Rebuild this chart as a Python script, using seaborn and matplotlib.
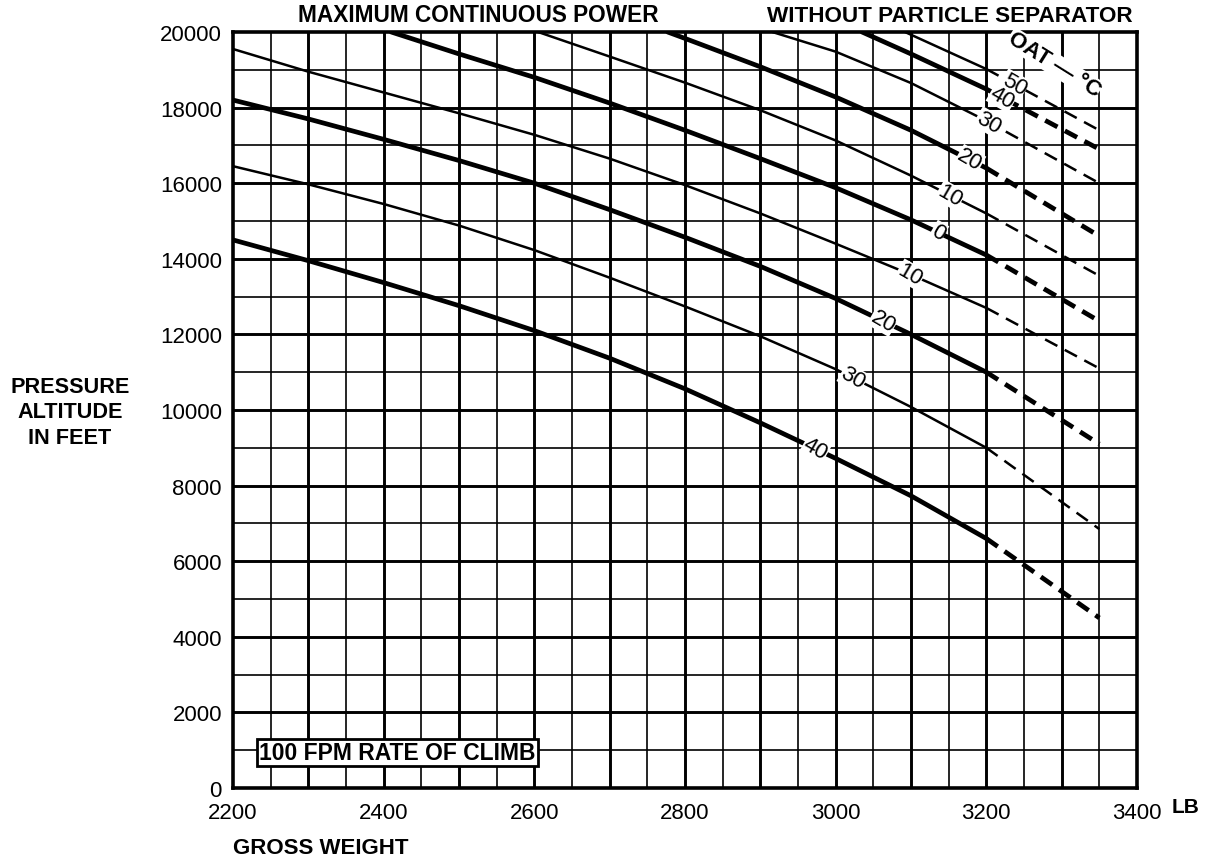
import numpy as np
import pandas as pd
import matplotlib
matplotlib.use("Agg")
import matplotlib.pyplot as plt
import seaborn as sns

# ---------------- data ----------------
x_ticks = [2200, 2400, 2600, 2800, 3000, 3200, 3400]
y_ticks = [0, 2000, 4000, 6000, 8000, 10000, 12000, 14000, 16000, 18000, 20000]

# OAT curves: gross weight (lb) vs pressure altitude (ft); solid up to 3200 lb, dashed beyond
w_m50 = [3092, 3200, 3350]
alt_m50 = [20000, 19020, 17400]
w_m40 = [3035, 3100, 3200, 3350]
alt_m40 = [20000, 19420, 18490, 16900]
w_m30 = [2916, 3000, 3100, 3200, 3350]
alt_m30 = [20000, 19480, 18650, 17650, 16000]
w_m20 = [2777, 2800, 2900, 3000, 3100, 3200, 3350]
alt_m20 = [20000, 19830, 19080, 18280, 17400, 16400, 14600]
w_m10 = [2605, 2700, 2800, 2900, 3000, 3100, 3200, 3350]
alt_m10 = [20000, 19350, 18660, 17930, 17130, 16200, 15200, 13550]
w_0 = [2410, 2500, 2600, 2700, 2800, 2900, 3000, 3100, 3200, 3350]
alt_0 = [20000, 19420, 18800, 18120, 17400, 16650, 15880, 15030, 14100, 12350]
w_p10 = [2200, 2300, 2400, 2500, 2600, 2700, 2800, 2900, 3000, 3100, 3200, 3350]
alt_p10 = [19550, 18950, 18400, 17850, 17280, 16650, 15950, 15200, 14400, 13580, 12700, 11100]
w_p20 = [2200, 2300, 2400, 2500, 2600, 2700, 2800, 2900, 3000, 3100, 3200, 3350]
alt_p20 = [18200, 17700, 17160, 16600, 16000, 15300, 14570, 13800, 12950, 12000, 11000, 9100]
w_p30 = [2200, 2300, 2400, 2500, 2600, 2700, 2800, 2900, 3000, 3100, 3200, 3350]
alt_p30 = [16450, 15970, 15450, 14880, 14230, 13500, 12740, 11950, 11080, 10080, 9000, 6850]
w_p40 = [2200, 2300, 2400, 2500, 2600, 2700, 2800, 2900, 3000, 3100, 3200, 3350]
alt_p40 = [14500, 13950, 13370, 12760, 12100, 11370, 10560, 9660, 8720, 7730, 6600, 4500]

oat_values = [-50, -40, -30, -20, -10, 0, 10, 20, 30, 40]
oat_labels = ["50", "40", "30", "20", "10", "0", "10", "20", "30", "40"]
label_weights = [3237, 3221, 3203, 3178, 3152, 3136, 3099, 3063, 3023, 2973]
solid_limit = 3200

curves = [(w_m50, alt_m50), (w_m40, alt_m40), (w_m30, alt_m30), (w_m20, alt_m20),
          (w_m10, alt_m10), (w_0, alt_0), (w_p10, alt_p10), (w_p20, alt_p20),
          (w_p30, alt_p30), (w_p40, alt_p40)]

# ---------------- style ----------------
sns.set_style("white")
plt.rcParams["font.family"] = ["Liberation Sans", "DejaVu Sans"]
plt.rcParams["lines.scale_dashes"] = False
plt.rcParams["text.color"] = "black"
plt.rcParams["axes.labelcolor"] = "black"
plt.rcParams["xtick.color"] = "black"
plt.rcParams["ytick.color"] = "black"

W, H = 1212, 862
fig = plt.figure(figsize=(W / 100, H / 100), dpi=100)
L, R, T, B = 233, 1137, 33, 789
ax = fig.add_axes([L / W, 1 - B / H, (R - L) / W, (B - T) / H])
ax.set_xlim(2200, 3400)
ax.set_ylim(0, 20000)

# grid
for gx in np.arange(2250, 3400, 100):
    ax.axvline(gx, color="black", lw=1.2, zorder=1)
for gx in np.arange(2300, 3400, 100):
    ax.axvline(gx, color="black", lw=2.1, zorder=1)
for gy in np.arange(1000, 20000, 2000):
    ax.axhline(gy, color="black", lw=1.2, zorder=1)
for gy in np.arange(2000, 20000, 2000):
    ax.axhline(gy, color="black", lw=2.1, zorder=1)

for spine in ax.spines.values():
    spine.set_color("black")
    spine.set_linewidth(2.6)
    spine.set_zorder(5)

# curves
for i, ((w, a), oat) in enumerate(zip(curves, oat_values)):
    thick = (oat // 10) % 2 == 0
    lw = 3.4 if thick else 1.8
    df = pd.DataFrame({"weight": w, "alt": a})
    solid = df[df["weight"] <= solid_limit]
    dashed = df[df["weight"] >= solid_limit]
    if len(solid) > 1:
        sns.lineplot(data=solid, x="weight", y="alt", color="black", lw=lw,
                     sort=False, estimator=None, ax=ax, zorder=3)
    sns.lineplot(data=dashed, x="weight", y="alt", color="black", lw=lw,
                 sort=False, estimator=None, ax=ax, zorder=3,
                 linestyle=(0, (10, 6)))
    lx = label_weights[i]
    ly = np.interp(lx, w, a)
    ax.text(lx, ly, oat_labels[i], fontsize=16, rotation=-30, ha="center", va="center",
            color="black", zorder=6,
            bbox=dict(facecolor="white", edgecolor="none", pad=0.3))

ax.text(3290, 19150, "OAT — °C", fontsize=16, fontweight="bold", rotation=-32,
        ha="center", va="center", zorder=6, color="black",
        bbox=dict(facecolor="white", edgecolor="none", pad=0.3))

# ticks
ax.set_xticks(x_ticks)
ax.set_xticklabels([str(v) for v in x_ticks])
ax.set_yticks(y_ticks)
ax.set_yticklabels([str(v) for v in y_ticks])
ax.tick_params(axis="both", direction="out", length=6, width=2.2, labelsize=16,
               color="black", labelcolor="black", pad=2)
ax.tick_params(axis="x", pad=4)
ax.set_xlabel("")
ax.set_ylabel("")

# texts
fig.text(478 / W, 1 - 16 / H, "MAXIMUM CONTINUOUS POWER", fontsize=16.3, fontweight="bold",
         ha="center", va="center")
fig.text(950 / W, 1 - 16 / H, "WITHOUT PARTICLE SEPARATOR", fontsize=16.2, fontweight="bold",
         ha="center", va="center")
fig.text(70 / W, 1 - 413 / H, "PRESSURE\nALTITUDE\nIN FEET", fontsize=15.6, fontweight="bold",
         ha="center", va="center", linespacing=1.28)
fig.text(233 / W, 1 - 849 / H, "GROSS WEIGHT", fontsize=16, fontweight="bold",
         ha="left", va="center")
fig.text(1186 / W, 1 - 808 / H, "LB", fontsize=15, fontweight="bold",
         ha="center", va="center")
ax.text(2235, 930, "100 FPM RATE OF CLIMB", fontsize=16.5, fontweight="bold",
        ha="left", va="center", zorder=7,
        bbox=dict(facecolor="white", edgecolor="black", linewidth=2, pad=1.5))

fig.savefig("out.png", dpi=100, facecolor="white")
